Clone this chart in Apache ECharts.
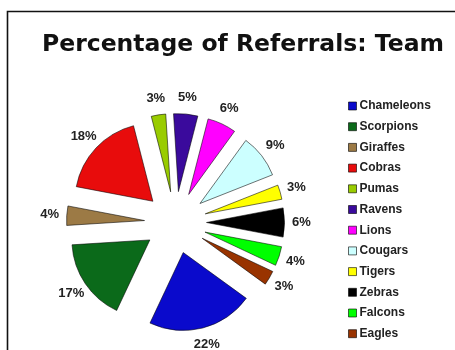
<!DOCTYPE html>
<html><head><meta charset="utf-8">
<script src="https://cdn.jsdelivr.net/npm/echarts@6/dist/echarts.min.js"></script>
<style>html,body{margin:0;padding:0;background:#fff}#c{width:455px;height:350px}</style>
</head><body><div id="c"></div>
<script>
const chartTitle = 'Percentage of Referrals: Team';
const teams = ['Chameleons','Scorpions','Giraffes','Cobras','Pumas','Ravens','Lions','Cougars','Tigers','Zebras','Falcons','Eagles'];
const percents = [22, 17, 4, 18, 3, 5, 6, 9, 3, 6, 4, 3];
const teamColors = ['#0a0acc','#0b6a1a','#9c7a45','#e80c0c','#99cc00','#3a0a9c','#ff00ff','#ccffff','#ffff00','#000000','#00ff00','#993300'];

const chart = echarts.init(document.getElementById('c'), null, {renderer: 'canvas'});
const pieCenter = [175.5, 222.5];
const startAngle = -36;

const sliceData = teams.map((n, i) => ({
  name: n, value: percents[i], selected: true,
  itemStyle: {color: teamColors[i]}
}));
const labelData = teams.map((n, i) => ({name: n, value: percents[i]}));

chart.setOption({
  animation: false,
  backgroundColor: '#ffffff',
  title: {
    text: chartTitle,
    left: 42, top: 33, padding: 0,
    textStyle: {fontFamily: 'DejaVu Sans', fontWeight: 'bold', fontSize: 23.5, color: '#111'}
  },
  graphic: [{
    type: 'rect', silent: true,
    shape: {x: 7.5, y: 11.5, width: 520, height: 400},
    style: {fill: 'none', stroke: '#111', lineWidth: 1.6}
  }],
  legend: {
    orient: 'vertical', left: 348, top: 99, height: 300, padding: 0,
    data: teams,
    icon: 'rect', itemWidth: 8, itemHeight: 8, itemGap: 6.7,
    selectedMode: false,
    itemStyle: {borderColor: 'rgba(0,0,0,0.6)', borderWidth: 1},
    textStyle: {fontFamily: 'Liberation Sans', fontWeight: 'bold', fontSize: 12, color: '#222', lineHeight: 14, padding: [0,0,0,-2]}
  },
  series: [{
    type: 'pie',
    center: pieCenter, radius: 78,
    startAngle: startAngle, clockwise: true,
    selectedMode: 'multiple', selectedOffset: 31,
    avoidLabelOverlap: false,
    label: {show: false}, labelLine: {show: false},
    itemStyle: {borderColor: 'rgba(0,0,0,0.55)', borderWidth: 1},
    emphasis: {disabled: true},
    data: sliceData
  }, {
    type: 'pie', silent: true,
    center: pieCenter, radius: [98, 148],
    startAngle: startAngle, clockwise: true,
    avoidLabelOverlap: false,
    itemStyle: {color: 'rgba(0,0,0,0)', borderWidth: 0},
    label: {show: true, position: 'inside', formatter: '{c}%',
      fontFamily: 'Liberation Sans', fontWeight: 'bold', fontSize: 13, color: '#222'},
    labelLine: {show: false},
    emphasis: {disabled: true},
    data: labelData
  }]
});
</script>
</body></html>
